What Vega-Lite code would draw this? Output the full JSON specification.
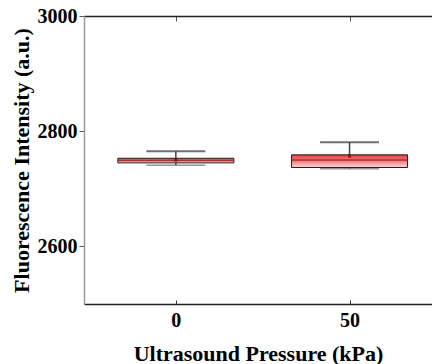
{
  "$schema": "https://vega.github.io/schema/vega-lite/v6.json",
  "autosize": {"type": "none"},
  "padding": {"left": 84, "top": 16, "right": 0, "bottom": 60},
  "width": 348,
  "height": 288,
  "background": "white",
  "config": {
    "view": {"stroke": null},
    "axis": {
      "labelFont": "Liberation Serif",
      "labelFontWeight": "bold",
      "labelFontSize": 20,
      "labelColor": "black",
      "titleFont": "Liberation Serif",
      "titleFontWeight": "bold",
      "titleFontSize": 22,
      "titleColor": "black",
      "grid": false
    }
  },
  "data": {
    "values": [
      {"pressure": 0, "lower": 2741, "q1": 2745, "median": 2749, "q3": 2753, "upper": 2765, "mean": 2750},
      {"pressure": 50, "lower": 2735, "q1": 2737, "median": 2750, "q3": 2759, "upper": 2781, "mean": 2757}
    ]
  },
  "layer": [
    {
      "mark": {"type": "rule", "color": "#444", "strokeWidth": 1.5},
      "encoding": {
        "x": {
          "field": "pressure", "type": "quantitative",
          "scale": {"domain": [-25, 72.3], "nice": false, "zero": false},
          "axis": {
            "orient": "bottom", "values": [0, 50], "format": "d", "tickSize": -4, "tickColor": "#333",
            "domainColor": "#222", "domainWidth": 1.5, "labelPadding": 10,
            "title": "Ultrasound Pressure (kPa)", "titlePadding": 13
          }
        },
        "y": {
          "field": "lower", "type": "quantitative",
          "scale": {"domain": [2500, 3000], "nice": false, "zero": false},
          "axis": {
            "values": [2600, 2800, 3000], "format": "d", "tickSize": 5, "tickColor": "#555",
            "domainColor": "#999", "domainWidth": 1.5, "labelPadding": 2,
            "title": "Fluorescence Intensity (a.u.)", "titlePadding": 4
          }
        },
        "y2": {"field": "upper"}
      }
    },
    {
      "mark": {"type": "tick", "orient": "horizontal", "size": 59, "thickness": 2, "color": "#333"},
      "encoding": {
        "x": {
          "field": "pressure", "type": "quantitative",
          "axis": {
            "orient": "top", "values": [0, 50], "tickSize": -5, "tickColor": "#555",
            "labels": false, "title": null, "domainColor": "#222", "domainWidth": 1.5
          }
        },
        "y": {"field": "upper", "type": "quantitative"}
      }
    },
    {
      "mark": {"type": "tick", "orient": "horizontal", "size": 59, "thickness": 1.5, "color": "#666"},
      "encoding": {
        "x": {"field": "pressure", "type": "quantitative", "axis": null},
        "y": {"field": "lower", "type": "quantitative"}
      }
    },
    {
      "mark": {
        "type": "bar", "size": 116, "stroke": "#222", "strokeWidth": 1,
        "color": {
          "x1": 0, "y1": 0, "x2": 0, "y2": 1, "gradient": "linear",
          "stops": [
            {"offset": 0, "color": "#e53b42"},
            {"offset": 0.5, "color": "#f27e82"},
            {"offset": 1, "color": "#fdd9da"}
          ]
        }
      },
      "encoding": {
        "x": {"field": "pressure", "type": "quantitative", "axis": null},
        "y": {"field": "q1", "type": "quantitative"},
        "y2": {"field": "q3"}
      }
    },
    {
      "mark": {"type": "tick", "orient": "horizontal", "size": 116, "thickness": 1.5, "color": "#8b1414"},
      "encoding": {
        "x": {"field": "pressure", "type": "quantitative", "axis": null},
        "y": {"field": "median", "type": "quantitative"}
      }
    },
    {
      "mark": {"type": "point", "shape": "square", "size": 10, "filled": true, "color": "#8b1414", "opacity": 1},
      "encoding": {
        "x": {"field": "pressure", "type": "quantitative", "axis": null},
        "y": {"field": "mean", "type": "quantitative"}
      }
    }
  ]
}
